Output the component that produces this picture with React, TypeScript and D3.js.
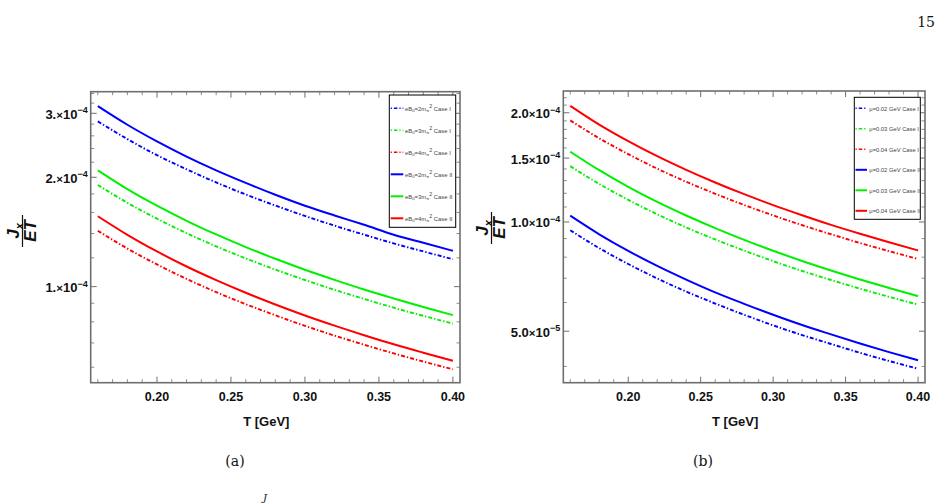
import React from "react";
import * as d3 from "d3";

// ---------- data ----------
const temps = [0.16, 0.18, 0.2, 0.22, 0.24, 0.26, 0.28, 0.3, 0.32, 0.34, 0.36, 0.38, 0.4];

// panel (a): values in units of 1e-4
const a_blueCaseI = [2.85, 2.548, 2.3, 2.104, 1.936, 1.793, 1.672, 1.565, 1.472, 1.39, 1.315, 1.25, 1.19];
const a_greenCaseI = [1.905, 1.701, 1.538, 1.403, 1.291, 1.196, 1.114, 1.043, 0.98, 0.925, 0.875, 0.831, 0.791];
const a_redCaseI = [1.425, 1.273, 1.151, 1.05, 0.966, 0.895, 0.834, 0.78, 0.733, 0.692, 0.655, 0.622, 0.592];
const a_blueCaseII = [3.14, 2.79, 2.51, 2.28, 2.09, 1.93, 1.79, 1.67, 1.57, 1.48, 1.39, 1.32, 1.255];
const a_greenCaseII = [2.09, 1.855, 1.67, 1.518, 1.392, 1.285, 1.193, 1.113, 1.044, 0.982, 0.928, 0.879, 0.835];
const a_redCaseII = [1.5625, 1.389, 1.25, 1.136, 1.042, 0.962, 0.893, 0.833, 0.781, 0.735, 0.694, 0.658, 0.625];

// panel (b): values in units of 1e-4
const b_blueCaseI = [0.949, 0.847, 0.766, 0.699, 0.643, 0.596, 0.555, 0.519, 0.488, 0.461, 0.436, 0.414, 0.394];
const b_greenCaseI = [1.425, 1.273, 1.151, 1.05, 0.966, 0.895, 0.834, 0.78, 0.733, 0.692, 0.655, 0.622, 0.592];
const b_redCaseI = [1.905, 1.701, 1.538, 1.403, 1.291, 1.196, 1.114, 1.043, 0.98, 0.925, 0.875, 0.831, 0.791];
const b_blueCaseII = [1.041, 0.925, 0.8325, 0.757, 0.694, 0.64, 0.595, 0.555, 0.52, 0.49, 0.4625, 0.438, 0.416];
const b_greenCaseII = [1.5625, 1.389, 1.25, 1.136, 1.042, 0.962, 0.893, 0.833, 0.781, 0.735, 0.694, 0.658, 0.625];
const b_redCaseII = [2.09, 1.855, 1.67, 1.518, 1.392, 1.285, 1.193, 1.113, 1.044, 0.982, 0.928, 0.879, 0.835];

const xTicks = [0.2, 0.25, 0.3, 0.35, 0.4];
const xTickLabels = ["0.20", "0.25", "0.30", "0.35", "0.40"];

const a_yTicks = [1e-4, 2e-4, 3e-4];
const a_yTickMant = ["1.", "2.", "3."];
const a_yTickExp = ["\u22124", "\u22124", "\u22124"];
const a_yMinor = [0.6e-4, 0.7e-4, 0.8e-4, 0.9e-4, 1.2e-4, 1.4e-4, 1.6e-4, 1.8e-4, 2.2e-4, 2.4e-4, 2.6e-4, 2.8e-4, 3.2e-4, 3.4e-4];

const b_yTicks = [5e-5, 1e-4, 1.5e-4, 2e-4];
const b_yTickMant = ["5.0", "1.0", "1.5", "2.0"];
const b_yTickExp = ["\u22125", "\u22124", "\u22124", "\u22124"];
const b_yMinor = [0.4e-4, 0.6e-4, 0.7e-4, 0.8e-4, 0.9e-4, 1.1e-4, 1.2e-4, 1.3e-4, 1.4e-4, 1.6e-4, 1.7e-4, 1.8e-4, 1.9e-4, 2.1e-4, 2.2e-4];

const a_legendVals = ["2", "3", "4", "2", "3", "4"];
const b_legendVals = ["0.02", "0.03", "0.04", "0.02", "0.03", "0.04"];
const legendCases = ["Case I", "Case I", "Case I", "Case II", "Case II", "Case II"];

const BLUE = "#0000ff";
const GREEN = "#00f000";
const RED = "#ff0000";
const DASH = "4,2,1.4,2";

type Series = { vals: number[]; color: string; dashed: boolean };

const a_series: Series[] = [
  { vals: a_blueCaseI, color: BLUE, dashed: true },
  { vals: a_greenCaseI, color: GREEN, dashed: true },
  { vals: a_redCaseI, color: RED, dashed: true },
  { vals: a_blueCaseII, color: BLUE, dashed: false },
  { vals: a_greenCaseII, color: GREEN, dashed: false },
  { vals: a_redCaseII, color: RED, dashed: false },
];
const b_series: Series[] = [
  { vals: b_blueCaseI, color: BLUE, dashed: true },
  { vals: b_greenCaseI, color: GREEN, dashed: true },
  { vals: b_redCaseI, color: RED, dashed: true },
  { vals: b_blueCaseII, color: BLUE, dashed: false },
  { vals: b_greenCaseII, color: GREEN, dashed: false },
  { vals: b_redCaseII, color: RED, dashed: false },
];

const FRAME = "#6f6f6f";
const TICKFONT = "'Liberation Sans', Arial, sans-serif";
const SERIF = "'DejaVu Serif', 'Liberation Serif', serif";

type PanelProps = {
  id: string;
  left: number;
  right: number;
  top: number;
  bottom: number;
  yDomain: [number, number];
  series: Series[];
  yTicks: number[];
  yMant: string[];
  yExp: string[];
  yMinor: number[];
  titleX: number;
  titleY: number;
  legend: { x0: number; x1: number; y0: number; y1: number; row0: number; step: number; sx0: number; sx1: number; tx: number };
  legendKind: "eB" | "mu";
};

function Panel(p: PanelProps) {
  const x = d3.scaleLinear().domain([0.1552, 0.4048]).range([p.left, p.right]);
  const y = d3.scaleLog().domain(p.yDomain).range([p.bottom, p.top]);
  const line = d3
    .line<number>()
    .x((_, i) => x(temps[i]))
    .y((v) => y(v * 1e-4))
    .curve(d3.curveMonotoneX);
  const minorX = d3.range(16, 41).map((v) => v / 100).filter((v) => !xTicks.some((t) => Math.abs(t - v) < 1e-9));
  const MAJ = 6;
  const MIN = 3.5;
  return (
    <g>
      <defs>
        <clipPath id={"clip" + p.id}>
          <rect x={p.left} y={p.top} width={p.right - p.left} height={p.bottom - p.top} />
        </clipPath>
      </defs>
      <g clipPath={`url(#clip${p.id})`}>
        {p.series.map((s, i) => (
          <path
            key={i}
            d={line(s.vals) || ""}
            fill="none"
            stroke={s.color}
            strokeWidth={s.dashed ? 1.9 : 2}
            strokeDasharray={s.dashed ? DASH : undefined}
          />
        ))}
      </g>
      <rect x={p.left} y={p.top} width={p.right - p.left} height={p.bottom - p.top} fill="none" stroke={FRAME} strokeWidth={1.6} />
      {xTicks.map((t, i) => (
        <g key={"xt" + i}>
          <line x1={x(t)} x2={x(t)} y1={p.bottom} y2={p.bottom - MAJ} stroke={FRAME} strokeWidth={1} />
          <line x1={x(t)} x2={x(t)} y1={p.top} y2={p.top + MAJ} stroke={FRAME} strokeWidth={1} />
          <text x={x(t)} y={p.bottom + 18.5} textAnchor="middle" fontFamily={TICKFONT} fontWeight="bold" fontSize={12.5} fill="#111">
            {xTickLabels[i]}
          </text>
        </g>
      ))}
      {minorX.map((t, i) => (
        <g key={"xm" + i}>
          <line x1={x(t)} x2={x(t)} y1={p.bottom} y2={p.bottom - MIN} stroke={FRAME} strokeWidth={0.8} />
          <line x1={x(t)} x2={x(t)} y1={p.top} y2={p.top + MIN} stroke={FRAME} strokeWidth={0.8} />
        </g>
      ))}
      {p.yTicks.map((t, i) => (
        <g key={"yt" + i}>
          <line x1={p.left} x2={p.left + MAJ} y1={y(t)} y2={y(t)} stroke={FRAME} strokeWidth={1} />
          <line x1={p.right} x2={p.right - MAJ} y1={y(t)} y2={y(t)} stroke={FRAME} strokeWidth={1} />
          <text x={p.left - 3} y={y(t) + 5.5} textAnchor="end" fontFamily={TICKFONT} fontWeight="bold" fontSize={13} fill="#111">
            {p.yMant[i]}
            <tspan fontSize={11.5}>×</tspan>10
            <tspan dy={-5.5} fontSize={9}>
              {p.yExp[i]}
            </tspan>
          </text>
        </g>
      ))}
      {p.yMinor
        .filter((t) => y(t) > p.top + 1 && y(t) < p.bottom - 1)
        .map((t, i) => (
          <g key={"ym" + i}>
            <line x1={p.left} x2={p.left + MIN} y1={y(t)} y2={y(t)} stroke={FRAME} strokeWidth={0.8} />
            <line x1={p.right} x2={p.right - MIN} y1={y(t)} y2={y(t)} stroke={FRAME} strokeWidth={0.8} />
          </g>
        ))}
      <text x={(p.left + p.right) / 2 - 9} y={p.bottom + 43} textAnchor="middle" fontFamily={TICKFONT} fontWeight="bold" fontSize={13} fill="#111">
        T [GeV]
      </text>
      <g transform={`translate(${p.titleX},${p.titleY}) rotate(-90)`} fontFamily={TICKFONT} fontWeight="bold" fontStyle="italic" fill="#111">
        <text x={0} y={-3} textAnchor="middle" fontSize={17}>
          J<tspan dy={3.5} fontSize={11}>x</tspan>
        </text>
        <line x1={-16} x2={16} y1={0.5} y2={0.5} stroke="#111" strokeWidth={1.2} />
        <text x={0} y={14} textAnchor="middle" fontSize={17}>
          ET
        </text>
      </g>
      <rect x={p.legend.x0} y={p.legend.y0} width={p.legend.x1 - p.legend.x0} height={p.legend.y1 - p.legend.y0} fill="#fff" stroke="#000" strokeWidth={1} />
      {p.series.map((s, i) => {
        const ry = p.legend.row0 + i * p.legend.step;
        return (
          <g key={"lg" + i}>
            <line
              x1={p.legend.sx0}
              x2={p.legend.sx1}
              y1={ry}
              y2={ry}
              stroke={s.color}
              strokeWidth={s.dashed ? 1.6 : 2}
              strokeDasharray={s.dashed ? "1.2,2,3.5,2" : undefined}
            />
            {p.legendKind === "eB" ? (
              <text x={p.legend.tx} y={ry + 2.5} fontFamily={TICKFONT} fontSize={5.9} fill="#444">
                eB
                <tspan dy={1.5} fontSize={4.3}>0</tspan>
                <tspan dy={-1.5}>={a_legendVals[i]}m</tspan>
                <tspan dy={1.5} fontSize={4.3}>π</tspan>
                <tspan dy={-4.5} fontSize={5.3}>2</tspan>
                <tspan dy={3}> {legendCases[i]}</tspan>
              </text>
            ) : (
              <text x={p.legend.tx} y={ry + 2.5} fontFamily={TICKFONT} fontSize={5.8} fill="#444">
                μ={b_legendVals[i]} GeV {legendCases[i]}
              </text>
            )}
          </g>
        );
      })}
    </g>
  );
}

export default function App() {
  return (
    <div style={{ position: "absolute", left: 0, top: 0 }}>
      <svg width={943} height={503} style={{ display: "block", background: "#fff" }}>
        <rect x={0} y={0} width={943} height={503} fill="#fff" />
        <text x={935} y={27} textAnchor="end" fontFamily={SERIF} fontSize={14} fill="#111">
          15
        </text>
        <Panel
          id="a"
          left={90.7}
          right={460}
          top={91.7}
          bottom={382.7}
          yDomain={[0.544e-4, 3.44e-4]}
          series={a_series}
          yTicks={a_yTicks}
          yMant={a_yTickMant}
          yExp={a_yTickExp}
          yMinor={a_yMinor}
          titleX={22}
          titleY={231}
          legend={{ x0: 389.3, x1: 455.7, y0: 95, y1: 227.3, row0: 108.3, step: 22, sx0: 390.7, sx1: 403.3, tx: 405 }}
          legendKind="eB"
        />
        <Panel
          id="b"
          left={563.3}
          right={925}
          top={91}
          bottom={382.7}
          yDomain={[0.3607e-4, 2.296e-4]}
          series={b_series}
          yTicks={b_yTicks}
          yMant={b_yTickMant}
          yExp={b_yTickExp}
          yMinor={b_yMinor}
          titleX={491}
          titleY={228}
          legend={{ x0: 854.3, x1: 920.3, y0: 97.3, y1: 219.3, row0: 108.3, step: 20.5, sx0: 855.5, sx1: 867, tx: 869.3 }}
          legendKind="mu"
        />
        <text x={235} y={466} textAnchor="middle" fontFamily={SERIF} fontSize={14} fill="#111">
          (a)
        </text>
        <text x={703} y={466} textAnchor="middle" fontFamily={SERIF} fontSize={14} fill="#111">
          (b)
        </text>
        <text x={263} y={501} fontFamily={SERIF} fontStyle="italic" fontSize={10} fill="#111">
          J
        </text>
      </svg>
    </div>
  );
}
